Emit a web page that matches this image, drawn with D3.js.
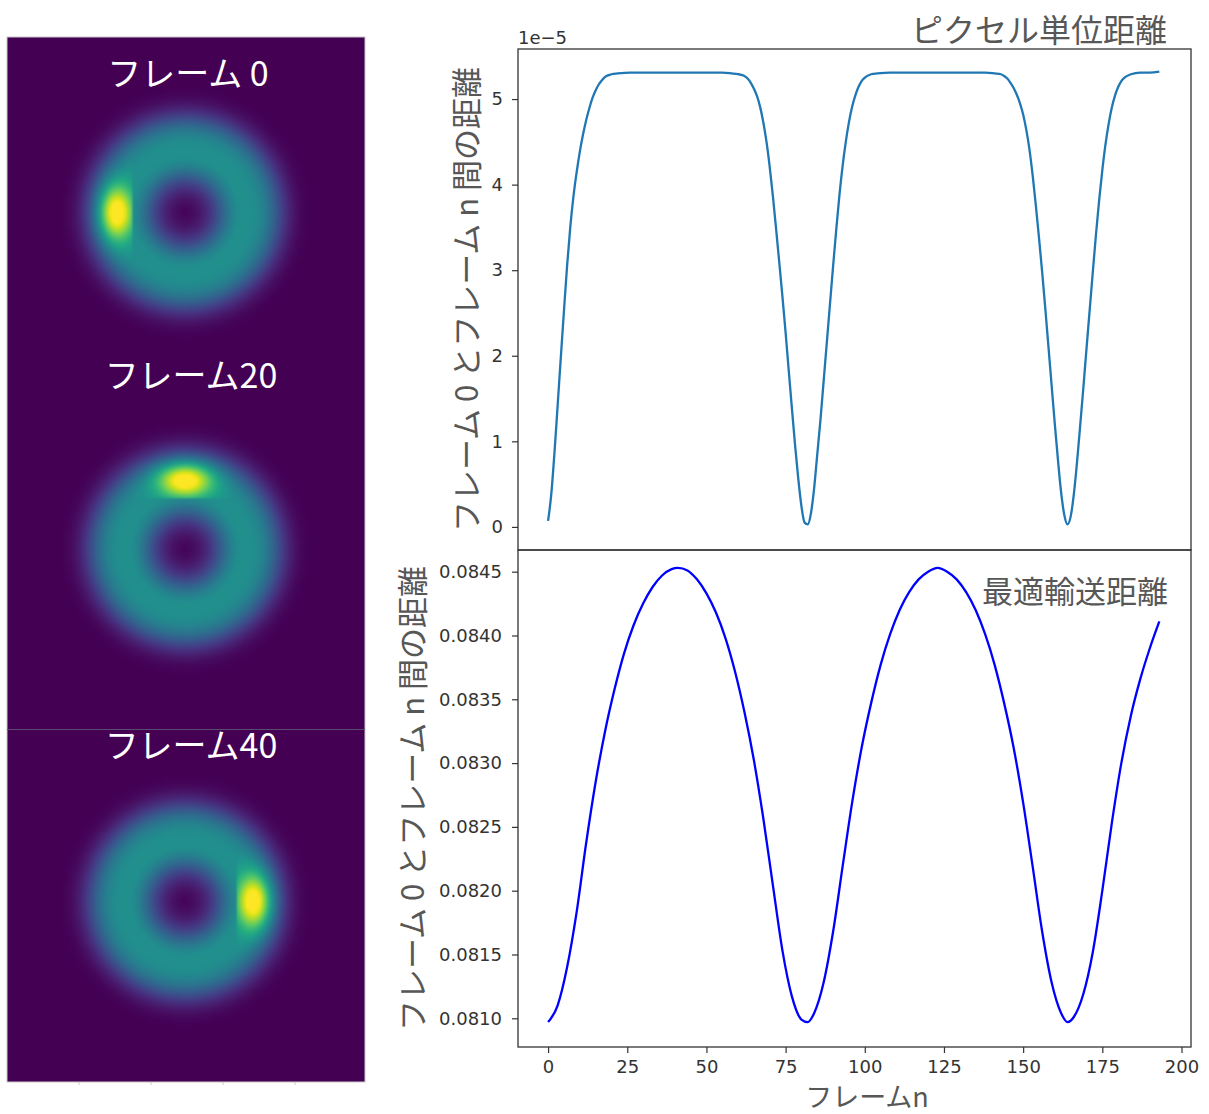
<!DOCTYPE html>
<html>
<head>
<meta charset="utf-8">
<script src="https://cdn.jsdelivr.net/npm/d3@7"></script>
<style>
	body { margin: 0; background: #fff; }
	svg { display: block; }
</style>
</head>
<body>
<svg id="chart" width="1209" height="1114"></svg>
<script>
/* Data */

// left column: the three frames shown as images
const imgLabels = ['フレーム 0', 'フレーム20', 'フレーム40'];
const spotAngles = [180, 90, 0]; // where the bright spot sits on the ring (deg, 0 = right, 90 = up)

// top panel: pixel distance between frame 0 and frame n (units of 1e-5)
const pixelDist = [
	[0, 0.07], [1, 0.38], [2, 0.86], [3, 1.41], [4, 1.97], [5, 2.52], [6, 3.05], [7, 3.50], [8, 3.86],
	[9, 4.14], [10, 4.38], [11, 4.58], [12, 4.75], [13, 4.89], [14, 5.01], [15, 5.10], [16, 5.17],
	[17, 5.22], [18, 5.26], [20, 5.29], [22, 5.30], [26, 5.31], [32, 5.31], [40, 5.31], [48, 5.31],
	[55, 5.31], [58, 5.30], [60, 5.29], [62, 5.27], [63, 5.24], [64, 5.19], [65, 5.12], [66, 5.03],
	[67, 4.90], [68, 4.72], [69, 4.49], [70, 4.20], [71, 3.86], [72, 3.48], [73, 3.09], [74, 2.69],
	[75, 2.27], [76, 1.82], [77, 1.38], [78, 0.95], [79, 0.56], [80, 0.24], [81, 0.05], [82, 0.03],
	[83, 0.16], [84, 0.45], [85, 0.85], [86, 1.25], [87, 1.70], [88, 2.15], [89, 2.60], [90, 3.05],
	[91, 3.48], [92, 3.88], [93, 4.22], [94, 4.50], [95, 4.73], [96, 4.91], [97, 5.04], [98, 5.14],
	[99, 5.21], [100, 5.25], [102, 5.29], [104, 5.30], [108, 5.31], [116, 5.31], [124, 5.31],
	[132, 5.31], [138, 5.31], [141, 5.30], [143, 5.29], [144, 5.27], [145, 5.24], [146, 5.19],
	[147, 5.13], [148, 5.05], [149, 4.95], [150, 4.82], [151, 4.64], [152, 4.41], [153, 4.11],
	[154, 3.76], [155, 3.38], [156, 2.98], [157, 2.55], [158, 2.10], [159, 1.65], [160, 1.20],
	[161, 0.78], [162, 0.40], [163, 0.14], [164, 0.03], [165, 0.12], [166, 0.38], [167, 0.75],
	[168, 1.18], [169, 1.62], [170, 2.08], [171, 2.53], [172, 2.98], [173, 3.42], [174, 3.82],
	[175, 4.17], [176, 4.47], [177, 4.71], [178, 4.90], [179, 5.04], [180, 5.14], [181, 5.21],
	[182, 5.25], [184, 5.29], [187, 5.31], [190, 5.31], [193, 5.32]
];

// bottom panel: optimal transport distance between frame 0 and frame n
const otDist = [
	[0, 0.08097], [3, 0.08110], [6, 0.08140], [9, 0.08183], [12, 0.08237], [15, 0.08285],
	[18, 0.08325], [21, 0.08358], [24, 0.08386], [27, 0.08408], [30, 0.08425], [33, 0.08438],
	[36, 0.08447], [39, 0.08452], [41, 0.08453], [44, 0.08451], [47, 0.08444], [50, 0.08433],
	[53, 0.08418], [56, 0.08398], [59, 0.08372], [62, 0.08340], [65, 0.08302], [68, 0.08256],
	[71, 0.08204], [74, 0.08153], [77, 0.08117], [80, 0.08099], [82, 0.08097], [84, 0.08104],
	[87, 0.08128], [90, 0.08168], [93, 0.08219], [96, 0.08269], [99, 0.08312], [102, 0.08347],
	[105, 0.08377], [108, 0.08401], [111, 0.08420], [114, 0.08434], [117, 0.08444], [120, 0.08450],
	[123, 0.08453], [126, 0.08450], [129, 0.08444], [132, 0.08434], [135, 0.08420], [138, 0.08401],
	[141, 0.08377], [144, 0.08347], [147, 0.08312], [150, 0.08269], [153, 0.08219], [156, 0.08168],
	[159, 0.08128], [162, 0.08104], [164, 0.08097], [166, 0.08101], [169, 0.08119], [172, 0.08152],
	[175, 0.08200], [178, 0.08253], [181, 0.08300], [184, 0.08337], [187, 0.08366], [190, 0.08390],
	[193, 0.08411]
];

const xTicks = [0, 25, 50, 75, 100, 125, 150, 175, 200];
const pixTicks = [0, 1, 2, 3, 4, 5];
const otTicks = [0.0810, 0.0815, 0.0820, 0.0825, 0.0830, 0.0835, 0.0840, 0.0845];

/* Layout */
const svg = d3.select('#chart');
const tickFont = 'DejaVu Sans, sans-serif';
const jpFont = '"Noto Sans CJK JP", "Noto Sans", sans-serif';
const labelColor = '#575757';

const plotL = 518, plotR = 1191;
const topY0 = 49, midY = 550, botY1 = 1047;

const x = d3.scaleLinear().domain([-9.5, 203]).range([plotL, plotR]);
const yTop = d3.scaleLinear().domain([-0.27, 5.585]).range([midY, topY0]);
const yBot = d3.scaleLinear().domain([0.080775, 0.08467]).range([botY1, midY]);

/* Left column: ring images */
function drawImages() {
	const strip = { x: 7, y: 37, w: 358, h: 1045 };
	const ringCx = 186;
	const ringCy = [213, 550, 903];
	const res = 3;
	const cw = Math.ceil(strip.w / res), ch = Math.ceil(strip.h / res);
	const cv = document.createElement('canvas');
	cv.width = cw;
	cv.height = ch;
	const ctx = cv.getContext('2d');
	const img = ctx.createImageData(cw, ch);

	for (let j = 0; j < ch; j++) {
		for (let i = 0; i < cw; i++) {
			const px = strip.x + (i + 0.5) * res;
			const py = strip.y + (j + 0.5) * res;
			let v = 0;
			ringCy.forEach((cy, k) => {
				const dx = px - ringCx, dy = py - cy;
				const r = Math.hypot(dx, dy);
				const d = r - 58;
				// soft inner hole, flatter outer falloff
				const ring = d < 0 ? Math.exp(-Math.pow(-d / 30, 2)) : Math.exp(-Math.pow(d / 40, 3));
				v += 0.5 * ring;
				// bright spot, cut off on its inner side
				const a = spotAngles[k] * Math.PI / 180;
				const ux = Math.cos(a), uy = -Math.sin(a);
				const p = dx * ux + dy * uy;
				const t = -dx * uy + dy * ux;
				if (p > 52) {
					v += 0.6 * Math.exp(-((p - 69) * (p - 69) / (2 * 12 * 12) + t * t / (2 * 19 * 19)));
				}
			});
			const c = d3.rgb(d3.interpolateViridis(Math.min(1, v)));
			const o = (j * cw + i) * 4;
			img.data[o] = c.r;
			img.data[o + 1] = c.g;
			img.data[o + 2] = c.b;
			img.data[o + 3] = 255;
		}
	}
	ctx.putImageData(img, 0, 0);

	svg.append('image')
		.attr('x', strip.x).attr('y', strip.y)
		.attr('width', strip.w).attr('height', strip.h)
		.attr('preserveAspectRatio', 'none')
		.attr('href', cv.toDataURL());

	// thin image borders and the hidden axes' tick stubs
	const g = svg.append('g').attr('stroke', '#c8c8c8').attr('fill', 'none');
	g.append('rect').attr('x', strip.x).attr('y', strip.y).attr('width', strip.w).attr('height', strip.h);
	g.append('line').attr('x1', strip.x).attr('x2', strip.x + strip.w).attr('y1', 729.5).attr('y2', 729.5).attr('stroke', '#5a4a70');
	[79, 151, 223, 295].forEach((tx) => {
		g.append('line').attr('x1', tx).attr('x2', tx).attr('y1', strip.y + strip.h).attr('y2', strip.y + strip.h + 3);
	});

	const labelY = [71, 373, 743];
	svg.selectAll('.imgLabel')
		.data(imgLabels)
		.enter()
		.append('text')
		.attr('class', 'imgLabel')
		.attr('x', (d, i) => (i == 0 ? 188 : 191))
		.attr('y', (d, i) => labelY[i])
		.attr('text-anchor', 'middle')
		.attr('dominant-baseline', 'central')
		.attr('fill', '#fff')
		.style('font-family', jpFont)
		.style('font-size', '34px')
		.text((d) => d);
}

/* Right column: the two line charts */
function styleAxis(g) {
	g.select('.domain').remove();
	g.selectAll('.tick line').attr('stroke', '#333').attr('stroke-width', 1.2);
	g.selectAll('.tick text').attr('fill', '#333').style('font-family', tickFont).style('font-size', '18px');
}

function drawCharts() {
	// top axis (pixel distance)
	svg.append('g')
		.attr('transform', `translate(${plotL},0)`)
		.call(d3.axisLeft(yTop).tickValues(pixTicks).tickFormat(d3.format('d')).tickSize(6).tickPadding(9))
		.call(styleAxis);

	// bottom axis (OT distance)
	svg.append('g')
		.attr('transform', `translate(${plotL},0)`)
		.call(d3.axisLeft(yBot).tickValues(otTicks).tickFormat(d3.format('.4f')).tickSize(6).tickPadding(10))
		.call(styleAxis);

	svg.append('g')
		.attr('transform', `translate(0,${botY1})`)
		.call(d3.axisBottom(x).tickValues(xTicks).tickSize(6).tickPadding(7))
		.call(styleAxis);

	const lineTop = d3.line().x((d) => x(d[0])).y((d) => yTop(d[1])).curve(d3.curveMonotoneX);
	const lineBot = d3.line().x((d) => x(d[0])).y((d) => yBot(d[1])).curve(d3.curveMonotoneX);

	svg.append('path')
		.datum(pixelDist)
		.attr('d', lineTop)
		.attr('fill', 'none')
		.attr('stroke', '#1f77b4')
		.attr('stroke-width', 2.3);

	svg.append('path')
		.datum(otDist)
		.attr('d', lineBot)
		.attr('fill', 'none')
		.attr('stroke', '#0000ff')
		.attr('stroke-width', 2.3);

	// frames
	svg.append('rect')
		.attr('x', plotL).attr('y', topY0)
		.attr('width', plotR - plotL).attr('height', midY - topY0)
		.attr('fill', 'none').attr('stroke', '#333').attr('stroke-width', 1.3);
	svg.append('rect')
		.attr('x', plotL).attr('y', midY)
		.attr('width', plotR - plotL).attr('height', botY1 - midY)
		.attr('fill', 'none').attr('stroke', '#333').attr('stroke-width', 1.3);

	// offset text
	svg.append('text')
		.attr('x', plotL).attr('y', 37)
		.attr('dominant-baseline', 'central')
		.attr('fill', '#333')
		.style('font-family', tickFont).style('font-size', '18px')
		.text('1e\u22125');

	// titles
	svg.append('text')
		.attr('x', 1167).attr('y', 28)
		.attr('text-anchor', 'end').attr('dominant-baseline', 'central')
		.attr('fill', labelColor)
		.style('font-family', jpFont).style('font-size', '32px')
		.text('ピクセル単位距離');
	svg.append('text')
		.attr('x', 1168).attr('y', 589)
		.attr('text-anchor', 'end').attr('dominant-baseline', 'central')
		.attr('fill', labelColor)
		.style('font-family', jpFont).style('font-size', '31px')
		.text('最適輸送距離');

	// axis labels
	const yLabel = 'フレーム 0 とフレーム n 間の距離';
	[[464, (topY0 + midY) / 2], [410, (midY + botY1) / 2]].forEach((p) => {
		svg.append('text')
			.attr('transform', `translate(${p[0]},${p[1]}) rotate(-90)`)
			.attr('text-anchor', 'middle').attr('dominant-baseline', 'central')
			.attr('fill', labelColor)
			.style('font-family', jpFont).style('font-size', '31px')
			.text(yLabel);
	});
	svg.append('text')
		.attr('x', 867).attr('y', 1107)
		.attr('text-anchor', 'middle')
		.attr('fill', labelColor)
		.style('font-family', jpFont).style('font-size', '27px')
		.text('フレームn');
}

drawImages();
drawCharts();
</script>
</body>
</html>
